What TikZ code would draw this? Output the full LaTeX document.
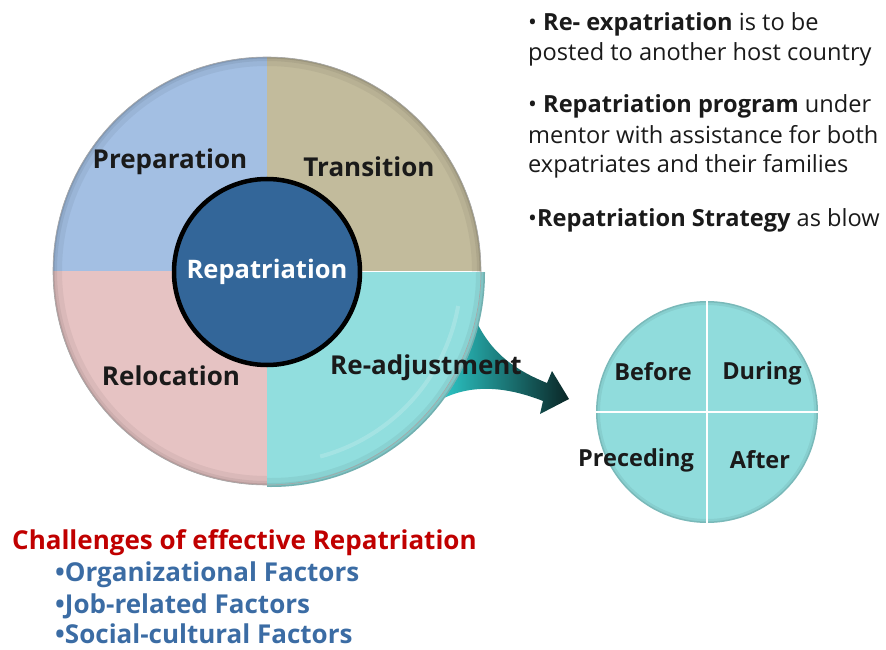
\documentclass[tikz,border=0pt]{standalone}
\usepackage{fontspec}
\setmainfont{Open Sans}
\definecolor{prepc}{HTML}{A3BFE3}
\definecolor{tranc}{HTML}{C2BB9C}
\definecolor{reloc}{HTML}{E6C3C3}
\definecolor{readc}{HTML}{91DEDE}
\definecolor{innerc}{HTML}{336699}
\definecolor{stratc}{HTML}{90DCDC}
\definecolor{arrA}{HTML}{2CC8C8}
\definecolor{arrB}{HTML}{0A2626}
\definecolor{txtc}{HTML}{1A1A1A}
\definecolor{redc}{HTML}{C00000}
\definecolor{bluec}{HTML}{3B6CA4}
\tikzset{
  lbl/.style={text=txtc, font=\fontsize{26}{28}\selectfont\bfseries, inner sep=0pt},
  slbl/.style={text=txtc, font=\fontsize{23.5}{26}\selectfont\bfseries, inner sep=0pt},
  rtxt/.style={text=txtc, font=\fontsize{23.6}{28}\selectfont, anchor=base west, inner sep=0pt},
  btxt/.style={font=\fontsize{26}{30}\selectfont\bfseries, anchor=base west, inner sep=0pt},
  edge1/.style={draw=black, draw opacity=0.05, line width=18pt},
  edge2/.style={draw=black, draw opacity=0.06, line width=8pt},
  edge3/.style={draw=black, draw opacity=0.10, line width=3pt}
}
\begin{document}
\begin{tikzpicture}[x=1pt,y=-1pt]
\useasboundingbox (0,0) rectangle (886,650);
% arrow (behind the big circle)
\shade[left color=arrA, right color=arrB]
  (472,312) .. controls (486,345) and (505,366) .. (547,383)
  -- (552,371) -- (569,399) -- (540,414) -- (543,401)
  .. controls (505,386) and (470,384) .. (440,400) -- cycle;
% big circle quadrants
\begin{scope}
  \clip (267,271) circle[radius=214];
  \fill[prepc] (267,271) rectangle (40,40);
  \fill[tranc] (267,271) rectangle (500,40);
  \fill[reloc] (267.5,271) rectangle (40,500);
  \path[edge1] (267,271) circle[radius=214];
  \path[edge2] (267,271) circle[radius=214];
  \path[edge3] (267,271) circle[radius=214];
\end{scope}
\begin{scope}
  \clip (271,273) circle[radius=214];
  \clip (267,272) rectangle (500,500);
  \fill[readc] (267,272) rectangle (500,500);
  \path[edge1] (271,273) circle[radius=214];
  \path[edge2] (271,273) circle[radius=214];
  \path[edge3] (271,273) circle[radius=214];
  \draw[white, opacity=0.18, line width=4pt] (271,273) ++(10:190) arc[start angle=10, end angle=75, radius=190];
\end{scope}
\draw[black!35, line width=0.6pt] (267,271) circle[radius=214];
% centre circle
\node[circle, draw=black, line width=4.5pt, fill=innerc, minimum size=186pt, inner sep=0pt,
      text=white, font=\fontsize{25.5}{28}\selectfont\bfseries] (rep) at (267,272) {Repatriation};
% quadrant labels
\node[lbl] (prep) at (170,162) {Preparation};
\node[lbl] (tran) at (369,167) {Transition};
\node[lbl] (relo) at (171,376) {Relocation};
\node[lbl] (read) at (426,368) {Re-adjustment};
% strategy circle
\node[circle, fill=stratc, minimum size=222pt, inner sep=0pt] (strat) at (707,412) {};
\begin{scope}
  \clip (707,412) circle[radius=111];
  \path[edge2] (707,412) circle[radius=111];
  \path[edge3] (707,412) circle[radius=111];
\end{scope}
\draw[white, line width=2.5pt] (strat.north) -- (strat.south);
\draw[white, line width=2.5pt] (strat.west) -- (strat.east);
\node[slbl] (bef) at (653,372) {Before};
\node[slbl] (dur) at (762,373) {During};
\node[slbl] (pre) at (636,460) {Preceding};
\node[slbl] (aft) at (760,460) {After};
% right-hand text
\node[rtxt] (r1) at (528,31) {• \textbf{Re- expatriation} is to be};
\node[rtxt] (r2) at (528,61) {posted to another host country};
\node[rtxt] (r3) at (528,113) {• \textbf{Repatriation program} under};
\node[rtxt] (r4) at (528,144) {mentor with assistance for both};
\node[rtxt] (r5) at (528,172) {expatriates and their families};
\node[rtxt] (r6) at (528,226) {•\textbf{Repatriation Strategy} as blow};
% bottom text
\node[btxt, text=redc] (ch) at (12,549) {Challenges of effective Repatriation};
\node[btxt, text=bluec] (f1) at (55,581) {•Organizational Factors};
\node[btxt, text=bluec] (f2) at (55,613) {•Job-related Factors};
\node[btxt, text=bluec] (f3) at (55,643) {•Social-cultural Factors};
\end{tikzpicture}
\end{document}
